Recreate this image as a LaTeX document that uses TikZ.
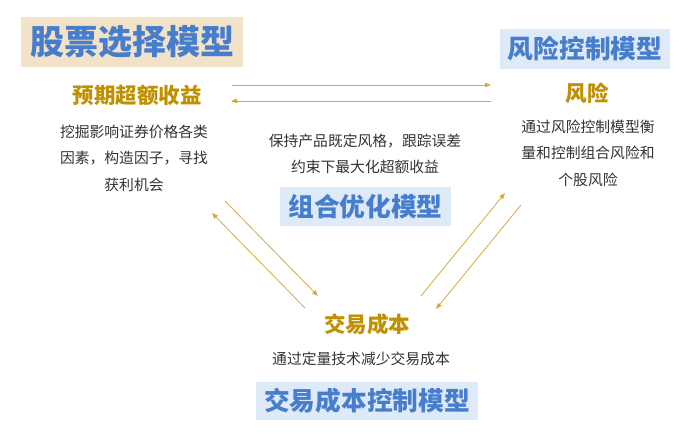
\documentclass[tikz,border=0pt]{standalone}
\usepackage{fontspec}
\setmainfont{Noto Sans CJK SC}
\usepackage{xcolor}
\usetikzlibrary{arrows, arrows.meta}

\definecolor{titleblue}{RGB}{70,125,205}
\definecolor{beigefill}{RGB}{242,226,199}
\definecolor{bluefill}{RGB}{222,234,247}
\definecolor{goldtext}{RGB}{191,144,0}
\definecolor{goldline}{RGB}{212,170,60}
\definecolor{desctext}{RGB}{50,50,50}

\begin{document}
\begin{tikzpicture}[x=1pt,y=-1pt,
  model/.style={fill=bluefill, text=titleblue, font=\bfseries\fontsize{25.7}{30}\selectfont, inner sep=0pt},
  heading/.style={text=goldtext, font=\bfseries\fontsize{21.5}{26}\selectfont, inner sep=0pt},
  desc/.style={text=desctext, align=center, font=\fontsize{14.8}{26.5}\selectfont, inner sep=0pt},
  link/.style={goldline, line width=0.8pt, -{Triangle[length=6pt,width=4.5pt]}}]
\useasboundingbox (0,0) rectangle (700,444);
%\draw[step=50,gray,very thin] (0,0) grid (700,444);

% model titles
\node[model, fill=beigefill, minimum width=222pt, minimum height=50pt,
      font=\bfseries\fontsize{34}{40}\selectfont] (stockmodel) at (132,42) {股票选择模型};
\node[model, minimum width=170pt, minimum height=40pt] (riskmodel) at (585,49) {风险控制模型};
\node[model, minimum width=171pt, minimum height=39pt] (optmodel) at (365.5,206.5) {组合优化模型};
\node[model, minimum width=222pt, minimum height=38pt] (costmodel) at (367,401) {交易成本控制模型};

% three corners
\node[heading] (excess) at (137,95) {预期超额收益};
\node[heading] (risk) at (587,93) {风险};
\node[heading] (cost) at (367,324) {交易成本};

\node[desc] (excessdesc) at (134,158) {挖掘影响证券价格各类\\因素，构造因子，寻找\\获利机会};
\node[desc] (riskdesc) at (588,153) {通过风险控制模型衡\\量和控制组合风险和\\个股风险};
\node[desc] (optdesc) at (365,154) {保持产品既定风格，跟踪误差\\约束下最大化超额收益};
\node[desc] (costdesc) at (361,359) {通过定量技术减少交易成本};

% arrow ends
\coordinate (topL1) at (232,85);
\coordinate (topR1) at (491,85);
\coordinate (topR2) at (491,101);
\coordinate (topL2) at (231,101);
\coordinate (leftA) at (225,201);
\coordinate (leftB) at (318,296);
\coordinate (leftC) at (305,308);
\coordinate (leftD) at (212,213);
\coordinate (rightA) at (421,296);
\coordinate (rightB) at (505,193);
\coordinate (rightC) at (521,205);
\coordinate (rightD) at (436,309);

\draw[link] (topL1) -- (topR1);
\draw[link] (topR2) -- (topL2);
\draw[link] (leftA) -- (leftB);
\draw[link] (leftC) -- (leftD);
\draw[link] (rightA) -- (rightB);
\draw[link] (rightC) -- (rightD);
\end{tikzpicture}
\end{document}
